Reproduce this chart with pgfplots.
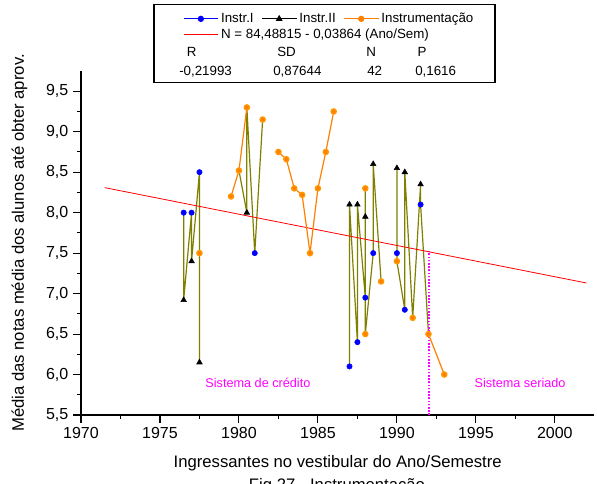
\documentclass[border=0pt]{standalone}
\usepackage{fontspec}
\setmainfont{Liberation Sans}
\usepackage{pgfplots}
\usepackage{pgfplotstable}
\pgfplotsset{compat=1.18}

\definecolor{instrblue}{RGB}{0,0,255}
\definecolor{instrorange}{RGB}{255,128,0}
\definecolor{linkolive}{RGB}{128,128,0}
\definecolor{sysmag}{RGB}{255,0,255}

% Instr.I
\pgfplotstableread{
x y
1976.5 8.0
1977 8.0
1977.5 8.5
1981 7.5
1987 6.1
1987.5 6.4
1988 6.95
1988.5 7.5
1990 7.5
1990.5 6.8
1991.5 8.1
}\instrI

% Instr.II
\pgfplotstableread{
x y
1976.5 6.92
1977 7.4
1977.5 6.15
1980.5 8.0
1987 8.1
1987.5 8.1
1988 7.95
1988.5 8.6
1990 8.55
1990.5 8.5
1991.5 8.35
}\instrII

% Instrumentacao (nan = break in line)
\pgfplotstableread{
x y
1977.5 7.5
nan nan
1979.5 8.2
1980 8.52
1980.5 9.3
nan nan
1981.5 9.15
nan nan
1982.5 8.75
1983 8.66
1983.5 8.3
1984 8.22
1984.5 7.5
1985 8.3
1985.5 8.75
1986 9.25
nan nan
1988 8.3
nan nan
1988 6.5
nan nan
1989 7.15
nan nan
1990 7.4
nan nan
1991 6.7
nan nan
1992 6.5
1993 6.0
}\instrum

% linking line through all courses
\pgfplotstableread{
x y
1976.5 8.0
1976.5 6.92
1977 8.0
1977 7.4
1977.5 8.5
1977.5 7.5
1977.5 6.15
nan nan
1980 8.52
1980.5 8.0
1980.5 9.3
1981 7.5
1981.5 9.15
nan nan
1987 6.1
1987 8.1
1987.5 6.4
1987.5 8.1
1988 6.95
1988 7.95
1988 8.3
1988 6.5
1988.5 7.5
1988.5 8.6
1989 7.15
nan nan
1990 8.55
1990 7.5
1990 7.4
1990.5 6.8
1990.5 8.5
1991 6.7
1991.5 8.35
1991.5 8.1
1992 6.5
}\linked

\begin{document}
\begin{tikzpicture}
% page = 597 x 484 px at 0.75pt per px
\path[use as bounding box] (0pt,0pt) rectangle (447.75pt,-363pt);

\begin{axis}[
  at={(60.75pt,-311.25pt)}, anchor=south west,
  scale only axis, width=385pt, height=258pt,
  xmin=1970, xmax=2002.5, ymin=5.5, ymax=9.75,
  axis x line*=bottom, axis y line*=left, axis line style={-, line width=0.8pt},
  xtick={1970,1975,...,2000}, minor x tick num=1,
  ytick={5.5,6,6.5,7,7.5,8,8.5,9,9.5}, minor y tick num=1,
  tick align=outside, major tick length=6pt, minor tick length=3pt,
  tick style={black, line width=0.8pt},
  /pgf/number format/assume math mode=true,
  tick label style={font=\fontsize{12}{14}\selectfont},
  xticklabel style={/pgf/number format/1000 sep={}},
  yticklabel style={/pgf/number format/.cd, fixed, fixed zerofill, precision=1, use comma},
  xlabel={Ingressantes no vestibular do Ano/Semestre},
  ylabel={Média das notas média dos alunos até obter aprov.},
  label style={font=\fontsize{12.5}{15}\selectfont},
  xlabel style={at={(axis description cs:0.5,-0.14)}, anchor=center},
  ylabel style={at={(axis description cs:-0.12,0.5)}, anchor=center},
  unbounded coords=jump,
  legend columns=3,
  legend cell align=left,
  legend image code/.code={\draw[mark repeat=2,mark phase=2,#1] plot coordinates {(0pt,0pt) (13pt,0pt) (26pt,0pt)};},
  legend style={at={(axis description cs:0.1905,1.18)}, anchor=north west, draw=none, fill=none,
    font=\fontsize{10}{12}\selectfont, nodes={inner sep=0.8pt}, row sep=1.5pt,
    /tikz/every even column/.append style={column sep=5pt},
    /tikz/every odd column/.append style={column sep=1pt}},
]
\addlegendimage{instrblue, line width=0.7pt, mark=*, mark size=2pt, mark options={fill=instrblue}}
\addlegendentry{Instr.I}
\addlegendimage{black, line width=0.7pt, mark=triangle*, mark size=2.3pt}
\addlegendentry{Instr.II}
\addlegendimage{instrorange, line width=0.7pt, mark=*, mark size=2pt, mark options={fill=instrorange}}
\addlegendentry{Instrumentação}
\addlegendimage{red, line width=0.7pt}
\addlegendentry{\rlap{N = 84,48815 - 0,03864 (Ano/Sem)}}

\addplot[linkolive, line width=0.9pt, no marks, forget plot] table[x=x, y=y] {\linked};
\addplot[sysmag, line width=1.2pt, dash pattern=on 1.2pt off 1.2pt, forget plot] coordinates {(1992.05,5.5) (1992.05,7.52)};
\addplot[red, line width=0.6pt, no marks, forget plot] coordinates {(1971.5,8.309) (2002,7.131)};
\addplot[instrorange, line width=0.9pt, mark=*, mark size=2pt, mark options={fill=instrorange, draw=instrorange!80!yellow}, forget plot] table[x=x, y=y] {\instrum};
\addplot[only marks, black, mark=triangle*, mark size=2.4pt, forget plot] table[x=x, y=y] {\instrII};
\addplot[only marks, instrblue, mark=*, mark size=2pt, mark options={fill=instrblue}, forget plot] table[x=x, y=y] {\instrI};

\node[text=sysmag, font=\fontsize{9.5}{11}\selectfont] at (axis cs:1981.2,5.9) {Sistema de crédito};
\node[text=sysmag, font=\fontsize{9.5}{11}\selectfont] at (axis cs:1997.8,5.9) {Sistema seriado};
\end{axis}

% legend frame and statistics
\draw[line width=0.8pt] (115.5pt,-3.5pt) rectangle (371.25pt,-62pt);
\begin{scope}[every node/.style={font=\fontsize{10}{12}\selectfont, anchor=base west, inner sep=0pt}]
\node at (140pt,-42.75pt) {R};
\node at (207.75pt,-42.75pt) {SD};
\node at (274.5pt,-42.75pt) {N};
\node at (313pt,-42.75pt) {P};
\node at (134.25pt,-57pt) {-0,21993};
\node at (204.75pt,-57pt) {0,87644};
\node at (275.25pt,-57pt) {42};
\node at (311.25pt,-57pt) {0,1616};
\end{scope}

\node[font=\fontsize{12.5}{15}\selectfont, anchor=base] at (252.75pt,-368.25pt) {Fig.27 - Instrumentação};
\end{tikzpicture}
\end{document}
